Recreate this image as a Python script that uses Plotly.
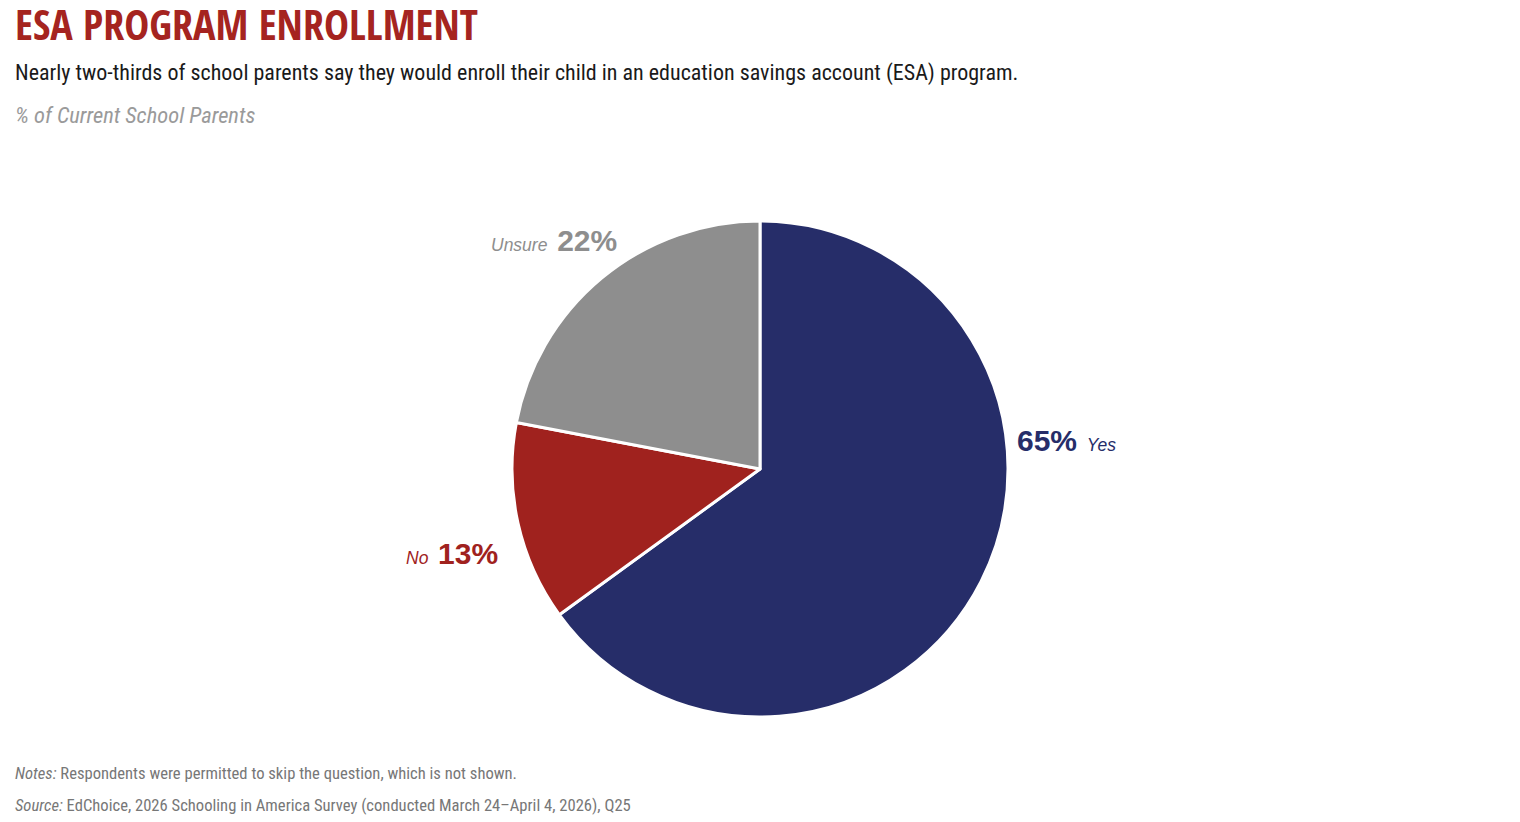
import plotly.graph_objects as go

# Survey data
labels = ["Yes", "No", "Unsure"]
values = [65, 13, 22]
colors = ["#262d69", "#a0221e", "#8e8e8e"]

W, H = 1520, 822
OFF = 8  # page body margin
M_T, M_B = 221 - OFF, 105 + OFF
M_L, M_R = 0, 2 * OFF
PLOT_W = W - M_L - M_R
PLOT_H = H - M_T - M_B

TITLE_FONT = "Open Sans Condensed, Roboto Condensed, DejaVu Sans Condensed, sans-serif"
BODY_FONT = "Roboto Condensed, DejaVu Sans Condensed, sans-serif"
SANS = "Liberation Sans, Arial, sans-serif"


def px(x):
    return (x - OFF - M_L) / PLOT_W


def py(y):
    return (H - M_B - (y - OFF)) / PLOT_H


fig = go.Figure(go.Pie(
    labels=labels,
    values=values,
    marker=dict(colors=colors, line=dict(color="white", width=3)),
    sort=False,
    direction="clockwise",
    rotation=0,
    textinfo="none",
    hoverinfo="label+percent",
    showlegend=False,
))

# slice labels: (x px, y px, anchor, percent first?)
label_pos = {"Yes": (1015, 440, "left", True),
             "No": (500, 553, "right", False),
             "Unsure": (619, 240, "right", False)}

annotations = []
for lab, val, col in zip(labels, values, colors):
    x, y, anchor, pct_first = label_pos[lab]
    pct = f"<span style='font-size:30px'><b>{val}%</b></span>"
    name = f"<i>{lab}</i>"
    text = f"{pct}  {name}" if pct_first else f"{name}  {pct}"
    annotations.append(dict(x=px(x), y=py(y), xref="paper", yref="paper",
                            xanchor=anchor, yanchor="middle", showarrow=False,
                            text=text, font=dict(family=SANS, size=17.5, color=col)))

# header and footer text
header = [
    dict(x=px(13), y=py(24), text="<b>ESA PROGRAM ENROLLMENT</b>",
         font=dict(family=TITLE_FONT, size=42, color="#a52420")),
    dict(x=px(13), y=py(73),
         text="Nearly two-thirds of school parents say they would enroll their child in an education savings account (ESA) program.",
         font=dict(family=BODY_FONT, size=22, color="#1a1a1a")),
    dict(x=px(13), y=py(115), text="<i>% of Current School Parents</i>",
         font=dict(family=BODY_FONT, size=22.5, color="#9a9a9a")),
    dict(x=px(13), y=py(773),
         text="<i>Notes:</i> Respondents were permitted to skip the question, which is not shown.",
         font=dict(family=BODY_FONT, size=16.6, color="#777777")),
    dict(x=px(13), y=py(805),
         text="<i>Source:</i> EdChoice, 2026 Schooling in America Survey (conducted March 24\u2013April 4, 2026), Q25",
         font=dict(family=BODY_FONT, size=16.6, color="#777777")),
]
for a in header:
    a.update(xref="paper", yref="paper", xanchor="left", yanchor="middle", showarrow=False)
annotations += header

fig.update_layout(
    width=W, height=H,
    margin=dict(l=M_L, r=M_R, t=M_T, b=M_B),
    paper_bgcolor="white",
    plot_bgcolor="white",
    annotations=annotations,
)

fig.write_html("out.html")
